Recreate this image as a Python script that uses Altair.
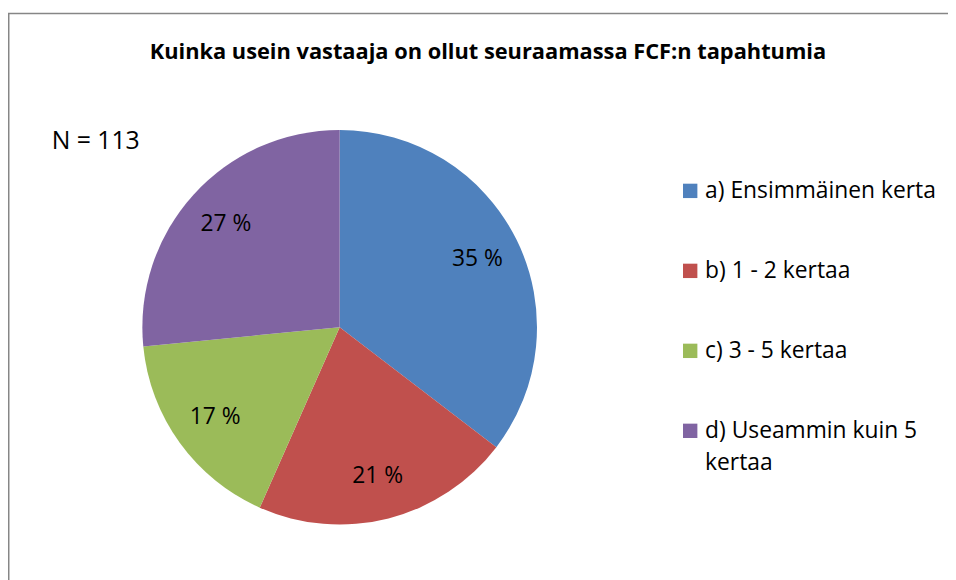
import altair as alt
import pandas as pd

categories = ["a) Ensimmäinen kerta", "b) 1 - 2 kertaa", "c) 3 - 5 kertaa", "d) Useammin kuin 5 kertaa"]
legend_text = ["a) Ensimmäinen kerta", "b) 1 - 2 kertaa", "c) 3 - 5 kertaa", "d) Useammin kuin 5\nkertaa"]
counts = [40, 24, 19, 30]
colors = ["#4F81BD", "#C0504D", "#9BBB59", "#8064A2"]
title_text = "Kuinka usein vastaaja on ollut seuraamassa FCF:n tapahtumia"
n_text = "N = 113"

df = pd.DataFrame({
    "category": categories,
    "legend_text": legend_text,
    "count": counts,
    "order": list(range(len(categories))),
})

FONT = "Open Sans"
CX, CY = 334.5, 319.5

color_scale = alt.Scale(domain=categories, range=colors)

base = alt.Chart(df).transform_joinaggregate(total="sum(count)").transform_calculate(
    label="round(datum.count / datum.total * 100) + ' %'"
)

theta = alt.Theta("count:Q", stack=True)
order = alt.Order("order:Q", sort="ascending")

arcs = base.mark_arc(outerRadius=199).encode(
    theta=theta,
    order=order,
    color=alt.Color("category:N", sort=categories, scale=color_scale, legend=None),
    x=alt.value(CX),
    y=alt.value(CY),
)

labels = base.mark_text(radius=155, font=FONT, fontSize=23, color="black").encode(
    theta=theta,
    order=order,
    text="label:N",
    x=alt.value(CX),
    y=alt.value(CY),
)

legend_y = alt.Y("category:N", sort=categories, axis=None,
                 scale=alt.Scale(type="point", domain=categories, range=[182, 424], padding=0))

legend_sym = alt.Chart(df).mark_square(size=210, filled=True, opacity=1).encode(
    x=alt.value(688),
    y=legend_y,
    color=alt.Color("category:N", sort=categories, scale=color_scale, legend=None),
)

legend_lab = alt.Chart(df).mark_text(
    font=FONT, fontSize=23, color="black", align="left", baseline="middle",
    lineBreak="\n", lineHeight=33,
).encode(
    x=alt.value(703),
    y=legend_y,
    text="legend_text:N",
)

one = alt.Data(values=[{}])

border = alt.Chart(one).mark_rect(fill="white", stroke="#868686", strokeWidth=1.5).encode(
    x=alt.value(0.75), y=alt.value(3), x2=alt.value(3000), y2=alt.value(3000)
)

title = alt.Chart(one).mark_text(
    font=FONT, fontSize=22, fontWeight="bold", color="black", align="center", baseline="alphabetic"
).encode(text=alt.value(title_text), x=alt.value(484), y=alt.value(49))

ntext = alt.Chart(one).mark_text(
    font=FONT, fontSize=25, color="black", align="left", baseline="alphabetic"
).encode(text=alt.value(n_text), x=alt.value(44), y=alt.value(140))

chart = alt.layer(border, arcs, labels, legend_sym, legend_lab, title, ntext).properties(
    width=948, height=572, autosize="none", padding=0, background="white"
).configure_view(stroke=None)

chart.save("out.html", embed_options={"renderer": "svg", "actions": False})
